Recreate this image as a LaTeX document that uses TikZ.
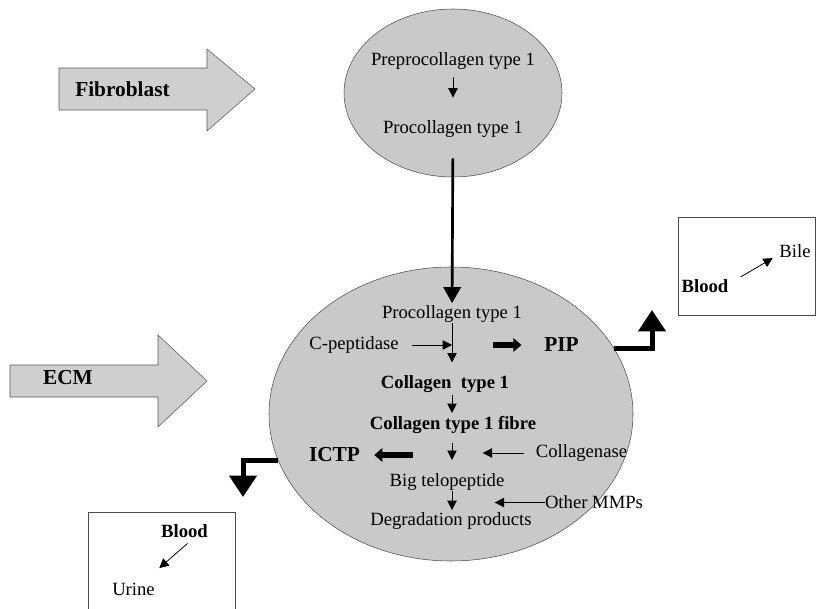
\documentclass[tikz,border=0pt]{standalone}
\usepackage{fontspec}
\setmainfont{Liberation Serif}
\usetikzlibrary{arrows.meta,shapes.geometric}

\begin{document}
\begin{tikzpicture}[x=0.75pt, y=-0.75pt, font=\fontsize{14}{16}\selectfont,
  cell/.style={ellipse, draw=black!70, fill=gray!42, outer sep=0pt, inner sep=0pt},
  bigarrow/.style={draw=black!65, fill=gray!38},
  txt/.style={inner sep=0pt},
  bold/.style={inner sep=0pt, font=\fontsize{14}{16}\selectfont\bfseries},
  lbl/.style={inner sep=0pt, font=\fontsize{16}{18}\selectfont\bfseries},
  organ/.style={rectangle, draw=black!70, fill=white, outer sep=0pt, inner sep=0pt},
  flow/.style={-{Triangle[length=7pt, width=7pt]}, line width=0.6pt},
  longflow/.style={-{Triangle[length=12pt, width=13pt]}, line width=2pt},
  fatflow/.style={-{Triangle[length=6pt, width=10pt]}, line width=5pt},
  bentflow/.style={-{Triangle[length=16pt, width=20pt]}, line width=3.75pt}]

\useasboundingbox (0, 0) rectangle (817, 609);
\clip (0, 0) rectangle (817, 609);

\node[organ, minimum width=102.75pt, minimum height=73.5pt] (bilebox) at (746.5, 266) {};
\node[organ, minimum width=110.25pt, minimum height=75pt] (urinebox) at (161.5, 562) {};

\draw[bigarrow] (59, 68) -- (207, 68) -- (207, 49) -- (255, 89) -- (207, 131) -- (207, 110) -- (59, 110) -- cycle;
\draw[bigarrow] (10, 365) -- (158, 365) -- (158, 335) -- (207, 381) -- (158, 427) -- (158, 397) -- (10, 397) -- cycle;
\node[lbl] (fiblbl) at (122.5, 89) {Fibroblast};
\node[lbl] (ecmlbl) at (68, 378) {ECM};

\node[cell, minimum width=163.5pt, minimum height=126pt] (fibcell) at (453, 93) {};
\node[cell, minimum width=273pt, minimum height=220.5pt] (ecm) at (451, 414) {};

\node[txt] (prepro) at (453, 61) {Preprocollagen type 1};
\node[txt] (pro) at (453, 129) {Procollagen type 1};

\node[txt] (procol) at (452, 314.5) {Procollagen type 1};
\node[txt] (cpep) at (354, 345) {C-peptidase};
\node[lbl] (pip) at (561.5, 345) {PIP};
\node[bold] (col) at (445, 384.5) {Collagen\ \ type 1};
\node[bold] (fibre) at (453, 424.5) {Collagen type 1 fibre};
\node[lbl] (ictp) at (334.5, 455) {ICTP};
\node[txt] (collagenase) at (581.5, 453) {Collagenase};
\node[txt] (bigtelo) at (447, 482) {Big telopeptide};
\node[txt] (mmp) at (594, 502.5) {Other MMPs};
\node[txt] (degr) at (451, 521.5) {Degradation products};

\node[bold] (blood1) at (705, 286) {Blood};
\node[txt] (bile) at (795, 251) {Bile};
\node[bold] (blood2) at (184.5, 531) {Blood};
\node[txt] (urine) at (133.5, 589) {Urine};

\coordinate (pipend) at (652, 310);
\coordinate (ictpend) at (243, 497);

\draw[flow, shorten <=5.7pt, shorten >=17pt] (prepro) -- (pro);
\draw[longflow, shorten <=15.5pt, shorten >=2pt] (pro) -- (procol);
\draw[flow, shorten >=10pt] (procol) -- (procol |- col.north);
\draw[flow, shorten <=10pt] (cpep) -- (cpep -| procol);
\draw[fatflow, shorten <=31pt, shorten >=17pt] (cpep -| procol) -- (pip);
\draw[flow, shorten <=1.5pt, shorten >=2pt] (procol |- col.south) -- (procol |- fibre.north);
\draw[flow, shorten <=7.5pt, shorten >=10pt] (procol |- fibre.south) -- (procol |- bigtelo.north);
\draw[flow, shorten <=8.5pt, shorten >=23pt] (collagenase) -- (collagenase -| procol);
\draw[fatflow, shorten <=29pt, shorten >=10.5pt] (ictp -| procol) -- (ictp);
\draw[flow, shorten >=2pt] (procol |- bigtelo.south) -- (procol |- degr.north);
\draw[flow, shorten >=32pt] (mmp.west) -- (mmp -| procol);

\draw[bentflow] (ecm.22) -| (pipend);
\draw[bentflow] (ecm.195) -| (ictpend);

\draw[flow, shorten <=10.4pt, shorten >=5.6pt] (blood1.5) -- (bile.192);
\draw[flow, shorten <=6.3pt, shorten >=16.4pt] (blood2.-36) -- (urine.35);
\end{tikzpicture}
\end{document}
